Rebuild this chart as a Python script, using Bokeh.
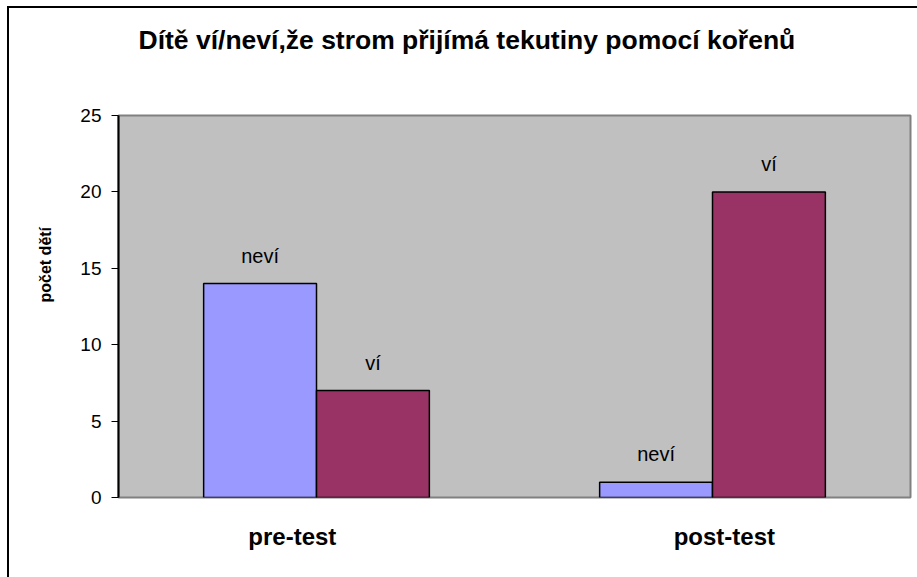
from bokeh.plotting import figure
from bokeh.models import ColumnDataSource, FixedTicker, Range1d, Title
from bokeh.embed import file_html
from bokeh.resources import INLINE
from bokeh.core.properties import value
import numpy as np

# ---- data ----
title_text = "Dítě ví/neví,že strom přijímá tekutiny pomocí kořenů"
y_label = "počet dětí"
categories = ["pre-test", "post-test"]
series_names = ["neví", "ví"]
nevi = [14, 1]
vi = [7, 20]
y_ticks = [0, 5, 10, 15, 20, 25]

# ---- layout / style constants ----
FONT = "Liberation Sans"
BAR_W = 0.285
LABEL_SHIFT = [-0.061, 0.030]   # category label offsets (data units)
C_NEVI = "#9999FF"
C_VI = "#993366"

n = len(categories)
centers = np.arange(n) + 0.5

p = figure(frame_width=792, frame_height=382,
           x_range=Range1d(0, n), y_range=Range1d(0, 25),
           output_backend="svg", toolbar_location=None,
           min_border_left=118, min_border_right=20,
           min_border_top=115, min_border_bottom=88)

# outer chart border (left and top edges) painted behind a transparent canvas;
# the chart area continues past the right/bottom edge of the window
p.styles = {
    "position": "fixed", "left": "0px", "top": "0px",
    "background-color": "white",
    "background-image": "linear-gradient(#000,#000), linear-gradient(#000,#000)",
    "background-position": "7px 6px, 7px 6px",
    "background-size": "2px 100%, 100% 2px",
    "background-repeat": "no-repeat",
}

p.background_fill_color = "#C0C0C0"
p.border_fill_color = None
p.outline_line_color = "#808080"
p.outline_line_width = 2
p.xgrid.visible = False
p.ygrid.visible = False

src_nevi = ColumnDataSource(dict(x=centers - BAR_W / 2, top=nevi,
                                 lab=[series_names[0]] * n))
src_vi = ColumnDataSource(dict(x=centers + BAR_W / 2, top=vi,
                               lab=[series_names[1]] * n))

for src, col in ((src_nevi, C_NEVI), (src_vi, C_VI)):
    p.vbar(x="x", top="top", bottom=0, width=BAR_W, source=src,
           fill_color=col, line_color="black", line_width=1.5)
    p.text(x="x", y="top", text="lab", source=src,
           text_align="center", text_baseline="alphabetic", y_offset=-28,
           text_font=value(FONT), text_font_size="20px", text_color="black")

# y axis
p.yaxis.ticker = FixedTicker(ticks=y_ticks)
p.yaxis.axis_line_color = "black"
p.yaxis.axis_line_width = 2
p.yaxis.major_tick_line_color = "black"
p.yaxis.major_tick_out = 7
p.yaxis.major_tick_in = 0
p.yaxis.minor_tick_line_color = None
p.yaxis.major_label_text_font = FONT
p.yaxis.major_label_text_font_size = "19px"
p.yaxis.major_label_text_color = "black"
p.yaxis.major_label_standoff = 10

# x axis
xt = [round(float(c + s), 3) for c, s in zip(centers, LABEL_SHIFT)]
p.xaxis.ticker = FixedTicker(ticks=xt)
p.xaxis.major_label_overrides = {t: c for t, c in zip(xt, categories)}
p.xaxis.axis_line_color = None
p.xaxis.major_tick_line_color = None
p.xaxis.minor_tick_line_color = None
p.xaxis.major_label_text_font = FONT
p.xaxis.major_label_text_font_size = "24px"
p.xaxis.major_label_text_font_style = "bold"
p.xaxis.major_label_text_color = "black"
p.xaxis.major_label_standoff = 19

# title
p.add_layout(Title(text=title_text, align="left", offset=20, standoff=10,
                   padding=dict(left=0, right=0, top=0, bottom=56),
                   text_font=FONT, text_font_size="26.5px",
                   text_font_style="bold", text_color="black"), "above")
# y axis label as a left title
p.add_layout(Title(text=y_label, align="left", offset=195, standoff=48,
                   text_font=FONT, text_font_size="16px",
                   text_font_style="bold", text_color="black"), "left")

open("out.html", "w").write(file_html(p, INLINE))
